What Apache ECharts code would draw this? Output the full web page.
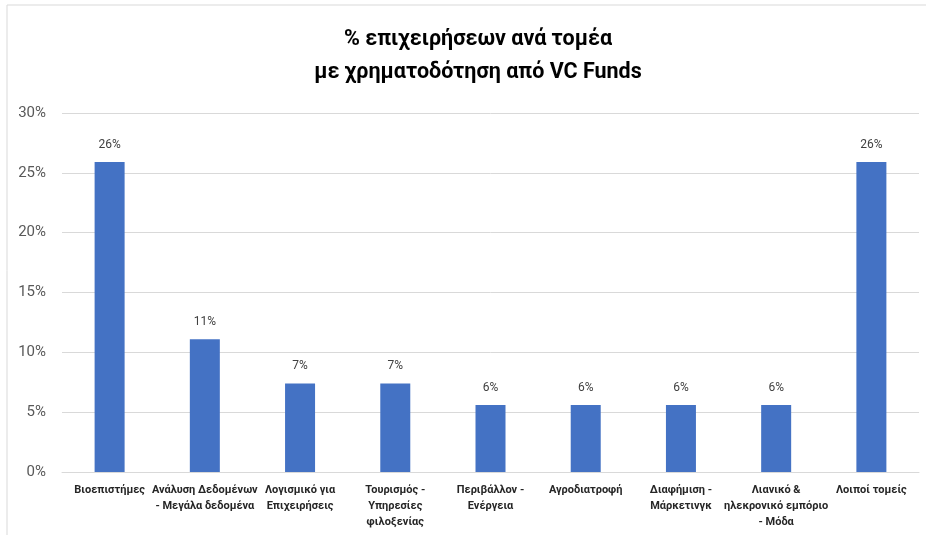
<!DOCTYPE html>
<html>
<head>
<meta charset="utf-8">
<script src="https://cdn.jsdelivr.net/npm/echarts@6/dist/echarts.min.js"></script>
<style>
  html, body { margin: 0; padding: 0; background: #fff; }
  #chart { width: 926px; height: 535px; }
</style>
</head>
<body>
<div id="chart"></div>
<script>
const titleLines = ["% επιχειρήσεων ανά τομέα", "με χρηματοδότηση από VC Funds"];

const sectors = [
    "Βιοεπιστήμες",
    "Ανάλυση Δεδομένων\n- Μεγάλα δεδομένα",
    "Λογισμικό για\nΕπιχειρήσεις",
    "Τουρισμός -\nΥπηρεσίες\nφιλοξενίας",
    "Περιβάλλον -\nΕνέργεια",
    "Αγροδιατροφή",
    "Διαφήμιση -\nΜάρκετινγκ",
    "Λιανικό &\nηλεκρονικό εμπόριο\n- Μόδα",
    "Λοιποί τομείς"
];

// share of companies, percent
const shares = [25.9, 11.1, 7.4, 7.4, 5.6, 5.6, 5.6, 5.6, 25.9];

const yTicks = { min: 0, max: 30, interval: 5 };

const font = "Roboto, 'Open Sans', sans-serif";

const chart = echarts.init(document.getElementById("chart"));

chart.setOption({
    backgroundColor: "#fff",
    animation: false,
    textStyle: { fontFamily: font },
    title: {
        text: titleLines.join("\n"),
        left: 473,
        textAlign: "center",
        top: 18,
        textStyle: {
            fontFamily: font,
            fontSize: 21.5,
            fontWeight: "bold",
            color: "#000",
            lineHeight: 33
        }
    },
    graphic: [
        {
            type: "rect",
            shape: { x: 7, y: 5, width: 1000, height: 700 },
            style: { fill: "none", stroke: "#d9d9d9", lineWidth: 1 },
            silent: true
        }
    ],
    grid: { left: 62, right: 7, top: 113, bottom: 63 },
    xAxis: {
        type: "category",
        data: sectors,
        axisLine: { lineStyle: { color: "#d9d9d9" } },
        axisTick: { show: false },
        axisLabel: {
            interval: 0,
            margin: 10,
            fontFamily: font,
            fontSize: 11,
            fontWeight: "bold",
            lineHeight: 16,
            color: "#262626"
        }
    },
    yAxis: {
        type: "value",
        min: yTicks.min,
        max: yTicks.max,
        interval: yTicks.interval,
        axisLine: { show: false },
        axisTick: { show: false },
        splitLine: { lineStyle: { color: "#d9d9d9" } },
        axisLabel: {
            margin: 16,
            fontFamily: font,
            fontSize: 15,
            color: "#595959",
            formatter: (v) => v + "%"
        }
    },
    series: [
        {
            type: "bar",
            data: shares,
            barWidth: 30,
            itemStyle: { color: "#4472C4" },
            label: {
                show: true,
                position: "top",
                distance: 11,
                fontFamily: font,
                fontSize: 12,
                color: "#404040",
                formatter: (p) => Math.round(p.value) + "%"
            }
        }
    ]
});
</script>
</body>
</html>
